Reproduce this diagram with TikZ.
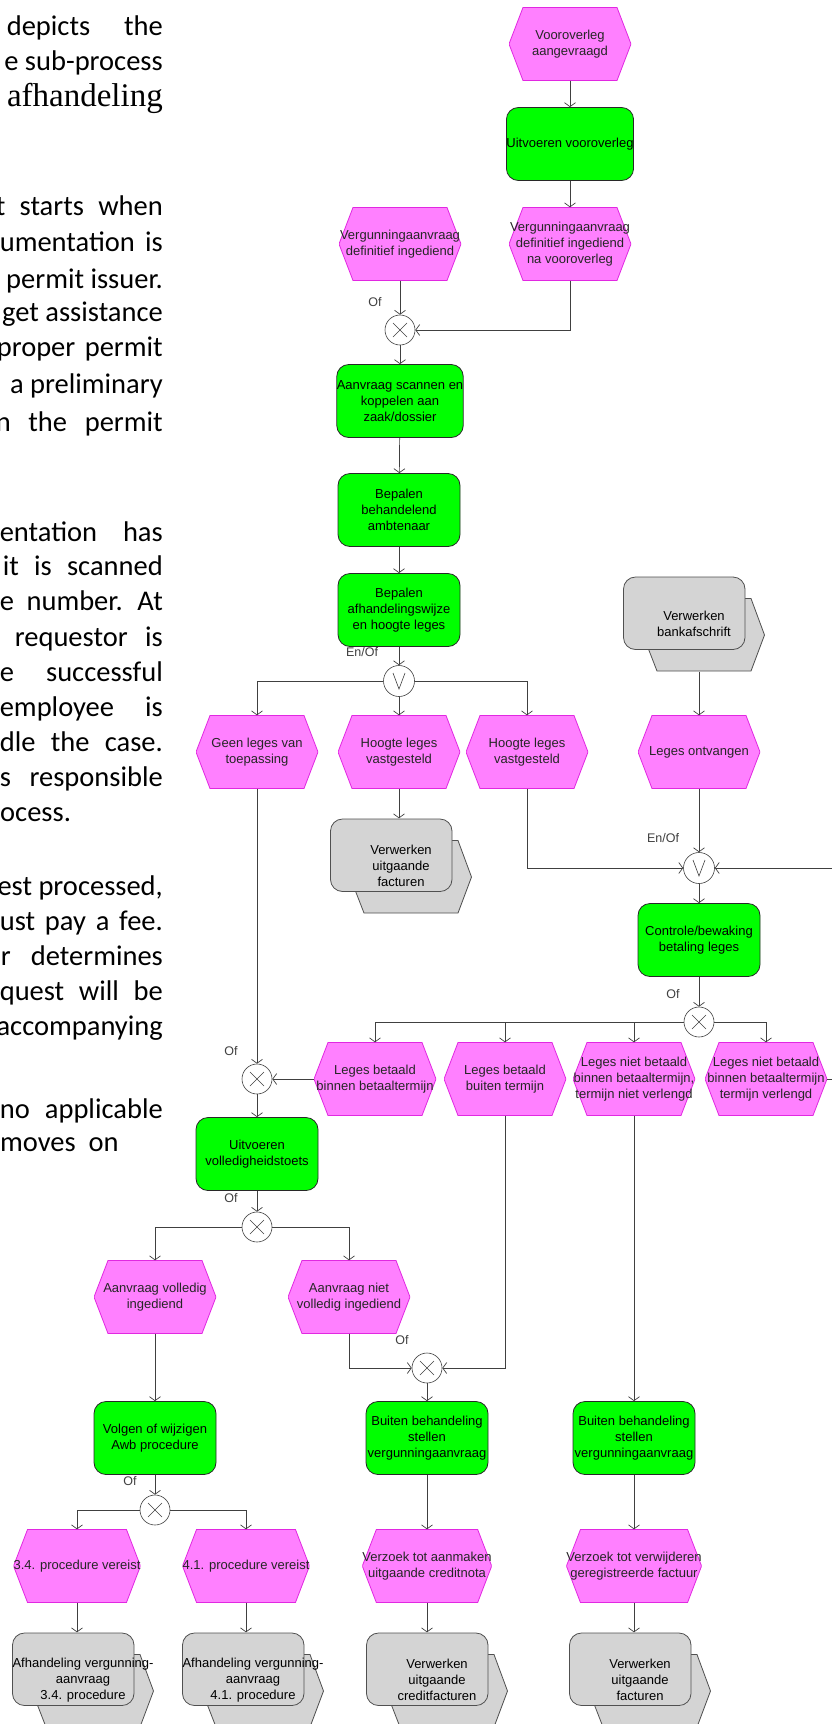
\documentclass[tikz,border=0pt]{standalone}
\usepackage{fontspec}
\usepackage{xcolor}
\usepackage{tikz}
\usetikzlibrary{arrows.meta}

\newfontfamily\bodyfont{Carlito}
\newfontfamily\titlefont{Liberation Serif}
\newfontfamily\epcfont{Liberation Sans}

\definecolor{evfill}{RGB}{255,128,255}
\definecolor{evline}{RGB}{225,40,225}
\definecolor{fnfill}{RGB}{0,255,0}
\definecolor{fnline}{RGB}{40,40,40}
\definecolor{iffill}{RGB}{212,212,212}
\definecolor{ifline}{RGB}{80,80,80}
\definecolor{linecol}{RGB}{64,64,64}

% lines of the cut text column, spread to a width
\newlength\jlen
\newcommand\jline[2]{%
  \settowidth{\jlen}{#2}%
  \ifdim\jlen>#1\relax
    #2%
  \else
    \hbox to #1{#2}%
  \fi}

\begin{document}
\begin{tikzpicture}[
  x=1pt, y=1pt,
  event/.style={
    rectangle,
    minimum width=122pt,
    minimum height=73pt,
    inner sep=0pt,
    align=center,
    font=\epcfont\fontsize{13pt}{16pt}\selectfont,
    text=black!85,
    path picture={
      \filldraw[fill=evfill, draw=evline, line width=0.8pt]
        ([xshift=14pt]path picture bounding box.north west)
        -- ([xshift=-14pt]path picture bounding box.north east)
        -- (path picture bounding box.east)
        -- ([xshift=-14pt]path picture bounding box.south east)
        -- ([xshift=14pt]path picture bounding box.south west)
        -- (path picture bounding box.west) -- cycle;
    }
  },
  func/.style={
    rectangle,
    rounded corners=12pt,
    draw=fnline,
    fill=fnfill,
    line width=0.8pt,
    minimum width=122pt,
    minimum height=73pt,
    inner sep=0pt,
    align=center,
    font=\epcfont\fontsize{13pt}{16pt}\selectfont
  },
  iface/.style={
    rectangle,
    minimum width=142pt,
    minimum height=95pt,
    inner sep=0pt,
    align=center,
    font=\epcfont\fontsize{13pt}{16pt}\selectfont,
    path picture={
      \filldraw[fill=iffill, draw=ifline, line width=0.8pt]
        ([shift={(34pt,-22pt)}]path picture bounding box.north west)
        -- ([shift={(128pt,-22pt)}]path picture bounding box.north west)
        -- ([shift={(141.5pt,-58.5pt)}]path picture bounding box.north west)
        -- ([shift={(128pt,-94.5pt)}]path picture bounding box.north west)
        -- ([shift={(34pt,-94.5pt)}]path picture bounding box.north west)
        -- ([shift={(20pt,-58.5pt)}]path picture bounding box.north west) -- cycle;
      \filldraw[fill=iffill, draw=ifline, line width=0.8pt, rounded corners=12pt]
        ([shift={(0.5pt,-0.5pt)}]path picture bounding box.north west)
        rectangle ([shift={(122pt,-73pt)}]path picture bounding box.north west);
    }
  },
  xorgate/.style={
    circle,
    draw=linecol,
    fill=white,
    line width=0.6pt,
    minimum size=30pt,
    inner sep=0pt,
    path picture={
      \draw[linecol, line width=0.6pt] (path picture bounding box.center)
        +(-7,-7) -- +(7,7) +(-7,7) -- +(7,-7);
    }
  },
  orgate/.style={
    circle,
    draw=linecol,
    fill=white,
    line width=0.6pt,
    minimum size=31pt,
    inner sep=0pt,
    path picture={
      \draw[linecol, line width=0.6pt] (path picture bounding box.center)
        +(-6,8) -- +(0,-8) -- +(6,8);
    }
  },
  lbl/.style={
    font=\epcfont\fontsize{12.5pt}{14pt}\selectfont,
    text=linecol,
    inner sep=0pt
  },
  para/.style={
    font=\bodyfont\fontsize{28.5pt}{35pt}\selectfont,
    inner sep=0pt,
    anchor=base east
  },
  arr/.style={
    -{Straight Barb[length=4pt,width=11pt]},
    linecol,
    line width=0.7pt
  }
]

\useasboundingbox (0,0) rectangle (832,-1724);
\fill[white] (0,0) rectangle (832,-1724);

% Text column
\node[para] (t1) at (163,-35) {\jline{156pt}{depicts \hfill the}};
\node[para] (t2) at (163,-70) {\jline{156pt}{e \hfill sub-process}};
\node[para, font=\titlefont\fontsize{33pt}{35pt}\selectfont] (t3) at (163,-106) {afhandeling};
\node[para] (t4) at (163,-215) {\jline{167pt}{t \hfill starts \hfill when}};
\node[para] (t5) at (163,-251) {\jline{163pt}{umentation \hfill is}};
\node[para] (t6) at (163,-288) {permit issuer.};
\node[para] (t7) at (163,-321) {\jline{160pt}{get \hfill assistance}};
\node[para] (t8) at (163,-356) {\jline{166pt}{proper \hfill permit}};
\node[para] (t9) at (163,-393) {\jline{148pt}{a \hfill preliminary}};
\node[para] (t10) at (163,-431) {\jline{167pt}{n \hfill the \hfill permit}};
\node[para] (t11) at (163,-541) {\jline{163pt}{entation \hfill has}};
\node[para] (t12) at (163,-575) {\jline{160pt}{it \hfill is \hfill scanned}};
\node[para] (t13) at (163,-610) {\jline{163pt}{e \hfill number. \hfill At}};
\node[para] (t14) at (163,-646) {\jline{148pt}{requestor \hfill is}};
\node[para] (t15) at (163,-681) {\jline{163pt}{e \hfill successful}};
\node[para] (t16) at (163,-716) {\jline{163pt}{employee \hfill is}};
\node[para] (t17) at (163,-751) {\jline{163pt}{dle \hfill the \hfill case.}};
\node[para] (t18) at (163,-786) {\jline{163pt}{s \hfill responsible}};
\node[para, anchor=base west] (t19) at (0,-821) {ocess.};
\node[para] (t20) at (163,-895) {\jline{163pt}{est \hfill processed,}};
\node[para] (t21) at (163,-930) {\jline{163pt}{ust \hfill pay \hfill a \hfill fee.}};
\node[para] (t22) at (163,-965) {\jline{162pt}{r \hfill determines}};
\node[para] (t23) at (163,-1000) {\jline{163pt}{quest \hfill will \hfill be}};
\node[para] (t24) at (163,-1035) {accompanying};
\node[para] (t25) at (163,-1118) {\jline{163pt}{no \hfill applicable}};
\node[para, anchor=base west] (t26) at (0,-1151) {moves\ \ on};

% Events, functions and interfaces
\node[event] (vraag) at (570,-44) {Vooroverleg\\aangevraagd};
\node[func] (vooroverleg) at (570,-144) {Uitvoeren vooroverleg};
\node[event] (naVo) at (570,-244) {Vergunningaanvraag\\definitief ingediend\\na vooroverleg};
\node[event] (defin) at (400,-244) {Vergunningaanvraag\\definitief ingediend};
\node[func] (scannen) at (400,-401) {Aanvraag scannen en\\koppelen aan\\zaak/dossier};
\node[func] (ambt) at (399,-510) {Bepalen\\behandelend\\ambtenaar};
\node[func] (wijze) at (399,-610) {Bepalen\\afhandelingswijze\\en hoogte leges};
\node[event] (geen) at (257,-752) {Geen leges van\\toepassing};
\node[event] (hoogte1) at (399,-752) {Hoogte leges\\vastgesteld};
\node[event] (hoogte2) at (527,-752) {Hoogte leges\\vastgesteld};
\node[iface] (bankaf) at (694,-624) {Verwerken\\bankafschrift};
\node[event] (ontv) at (699,-752) {Leges ontvangen};
\node[iface] (facturen1) at (401,-866) {Verwerken\\uitgaande\\facturen};
\node[func] (controle) at (699,-940) {Controle/bewaking\\betaling leges};
\node[event] (betBinnen) at (375,-1079) {Leges betaald\\binnen betaaltermijn};
\node[event] (betBuiten) at (505,-1079) {Leges betaald\\buiten termijn};
\node[event] (nietNiet) at (634,-1079) {Leges niet betaald\\binnen betaaltermijn,\\termijn niet verlengd};
\node[event] (nietVerl) at (766,-1079) {Leges niet betaald\\binnen betaaltermijn\\termijn verlengd};
\node[func] (volledig) at (257,-1154) {Uitvoeren\\volledigheidstoets};
\node[event] (aVol) at (155,-1297) {Aanvraag volledig\\ingediend};
\node[event] (aNiet) at (349,-1297) {Aanvraag niet\\volledig ingediend};
\node[func] (awb) at (155,-1438) {Volgen of wijzigen\\Awb procedure};
\node[func] (buiten1) at (427,-1438) {Buiten behandeling\\stellen\\vergunningaanvraag};
\node[func] (buiten2) at (634,-1438) {Buiten behandeling\\stellen\\vergunningaanvraag};
\node[event] (p34) at (77,-1566) {3.4. procedure vereist};
\node[event] (p41) at (246,-1566) {4.1. procedure vereist};
\node[event] (credit) at (427,-1566) {Verzoek tot aanmaken\\uitgaande creditnota};
\node[event] (verwijder) at (634,-1566) {Verzoek tot verwijderen\\geregistreerde factuur};
\node[iface] (afh34) at (83,-1680) {Afhandeling vergunning-\\aanvraag\\3.4. procedure};
\node[iface] (afh41) at (253,-1680) {Afhandeling vergunning-\\aanvraag\\4.1. procedure};
\node[iface] (creditf) at (437,-1680) {Verwerken\\uitgaande\\creditfacturen};
\node[iface] (facturen2) at (640,-1680) {Verwerken\\uitgaande\\facturen};

% Gates
\node[xorgate] (x1) at (400,-330) {};
\node[orgate] (or1) at (399,-681) {};
\node[orgate] (or2) at (699,-868) {};
\node[xorgate] (x2) at (699,-1022) {};
\node[xorgate] (x3) at (257,-1079) {};
\node[xorgate] (x4) at (257,-1227) {};
\node[xorgate] (x5) at (427,-1368) {};
\node[xorgate] (x6) at (155,-1510) {};

% Gate labels
\node[lbl] (l1) at (375,-302) {Of};
\node[lbl] (l2) at (362,-652) {En/Of};
\node[lbl] (l3) at (663,-838) {En/Of};
\node[lbl] (l4) at (673,-994) {Of};
\node[lbl] (l5) at (231,-1051) {Of};
\node[lbl] (l6) at (231,-1198) {Of};
\node[lbl] (l7) at (402,-1340) {Of};
\node[lbl] (l8) at (130,-1481) {Of};

% Connectors
\draw[arr] (vraag) -- (vooroverleg);
\draw[arr] (vooroverleg) -- (naVo);
\draw[arr] (defin) -- (x1);
\draw[arr] (naVo) |- (x1);
\draw[arr] (x1) -- (scannen);
\draw[arr] (scannen) -- (ambt);
\draw[arr] (ambt) -- (wijze);
\draw[arr] (wijze) -- (or1);
\draw[arr] (or1) -| (geen);
\draw[arr] (or1) -- (hoogte1);
\draw[arr] (or1) -| (hoogte2);
\draw[arr] (hoogte1) -- (hoogte1 |- facturen1.north);
\draw[arr] (hoogte2) |- (or2);
\draw[arr] (ontv |- bankaf.south) -- (ontv);
\draw[arr] (ontv) -- (or2);
\draw[arr] (nietVerl.east) -- ++(30,0) |- (or2);
\draw[arr] (or2) -- (controle);
\draw[arr] (controle) -- (x2);
\draw[arr] (x2) -| (betBinnen);
\draw[arr] (x2) -| (betBuiten);
\draw[arr] (x2) -| (nietNiet);
\draw[arr] (x2) -| (nietVerl);
\draw[arr] (geen) -- (x3);
\draw[arr] (betBinnen) -- (x3);
\draw[arr] (x3) -- (volledig);
\draw[arr] (volledig) -- (x4);
\draw[arr] (x4) -| (aVol);
\draw[arr] (x4) -| (aNiet);
\draw[arr] (aNiet) |- (x5);
\draw[arr] (betBuiten) |- (x5);
\draw[arr] (nietNiet) -- (buiten2);
\draw[arr] (aVol) -- (awb);
\draw[arr] (awb) -- (x6);
\draw[arr] (x6) -| (p34);
\draw[arr] (x6) -| (p41);
\draw[arr] (x5) -- (buiten1);
\draw[arr] (buiten1) -- (credit);
\draw[arr] (buiten2) -- (verwijder);
\draw[arr] (p34) -- (p34 |- afh34.north);
\draw[arr] (p41) -- (p41 |- afh41.north);
\draw[arr] (credit) -- (credit |- creditf.north);
\draw[arr] (verwijder) -- (verwijder |- facturen2.north);

\end{tikzpicture}
\end{document}
